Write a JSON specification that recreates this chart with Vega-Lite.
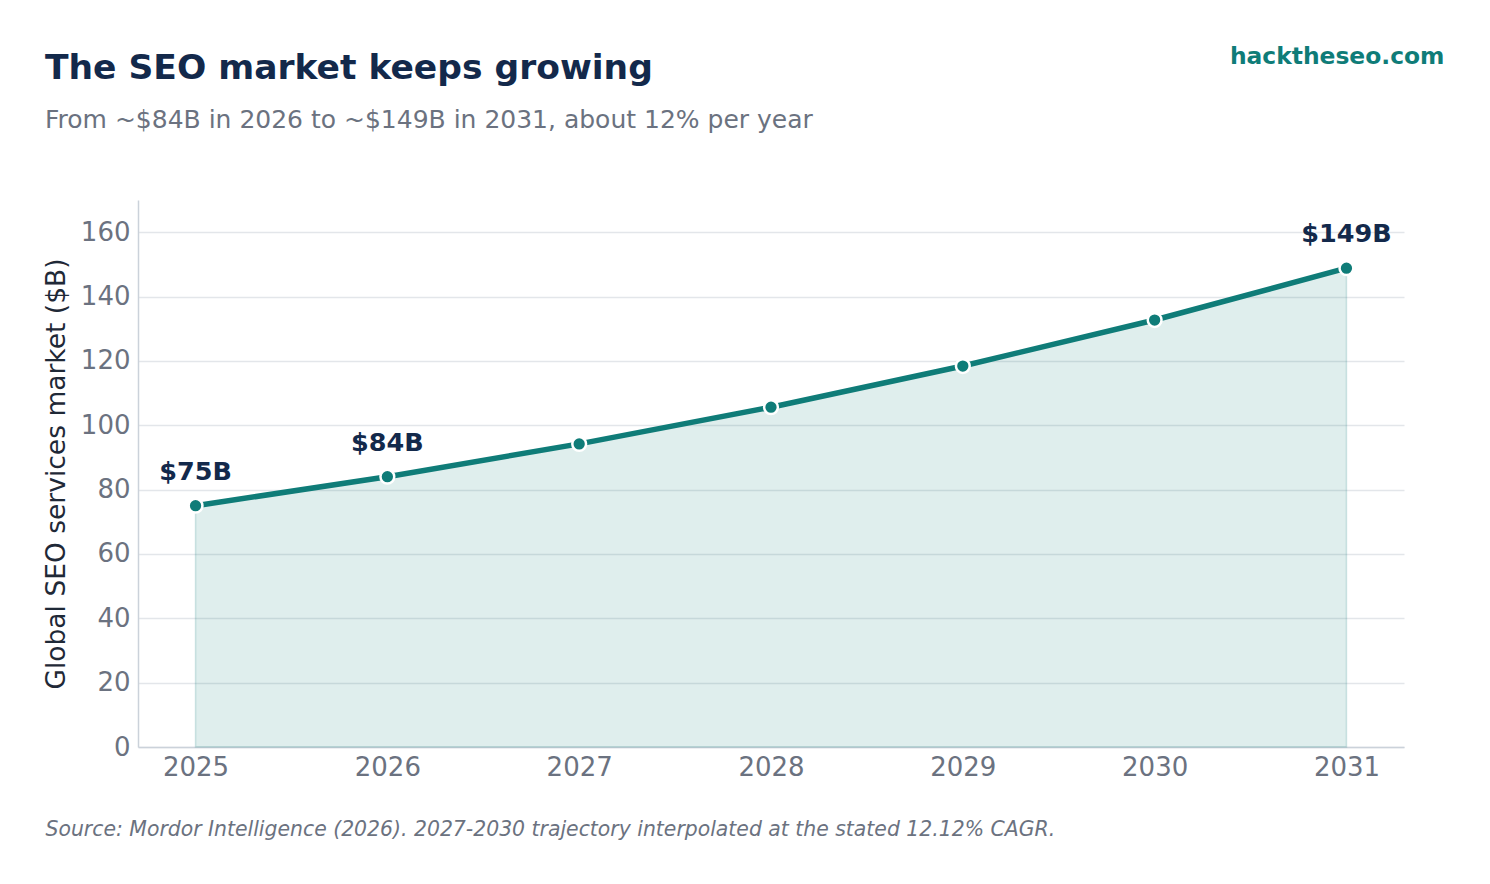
{
  "$schema": "https://vega.github.io/schema/vega-lite/v6.json",
  "autosize": {"type": "none"},
  "width": 1266,
  "height": 547,
  "padding": {"left": 138, "top": 200, "right": 86, "bottom": 137},
  "background": "white",
  "config": {
    "font": "DejaVu Sans",
    "view": {"stroke": null}
  },
  "title": {
    "text": "The SEO market keeps growing",
    "subtitle": "From ~$84B in 2026 to ~$149B in 2031, about 12% per year",
    "anchor": "start",
    "frame": "group",
    "dx": -93,
    "font": "DejaVu Sans",
    "fontSize": 34.5,
    "fontWeight": "bold",
    "color": "#13294b",
    "subtitleFont": "DejaVu Sans",
    "subtitleFontSize": 25,
    "subtitleColor": "#6b7280",
    "subtitlePadding": 22,
    "offset": -90
  },
  "data": {
    "values": [
      {"year": 2025, "market": 75.0, "label": "$75B"},
      {"year": 2026, "market": 84.0, "label": "$84B"},
      {"year": 2027, "market": 94.2, "label": ""},
      {"year": 2028, "market": 105.6, "label": ""},
      {"year": 2029, "market": 118.4, "label": ""},
      {"year": 2030, "market": 132.7, "label": ""},
      {"year": 2031, "market": 148.8, "label": "$149B"}
    ]
  },
  "encoding": {
    "x": {
      "field": "year",
      "type": "quantitative",
      "scale": {"domain": [2024.7, 2031.3], "nice": false, "zero": false},
      "axis": {
        "values": [2025, 2026, 2027, 2028, 2029, 2030, 2031],
        "format": "d",
        "grid": false,
        "ticks": false,
        "labelPadding": 7,
        "labelFontSize": 26,
        "labelColor": "#6b7280",
        "labelFont": "DejaVu Sans",
        "domainColor": "#cbd2da",
        "domainWidth": 1.5,
        "title": "Source: Mordor Intelligence (2026). 2027-2030 trajectory interpolated at the stated 12.12% CAGR.",
        "titleFont": "DejaVu Sans",
        "titleFontSize": 20.4,
        "titleFontStyle": "italic",
        "titleFontWeight": "normal",
        "titleColor": "#6b7280",
        "titleAnchor": "start",
        "titleAlign": "left",
        "titleBaseline": "alphabetic",
        "titleX": -93,
        "titleY": 88
      }
    }
  },
  "layer": [
    {
      "mark": {"type": "area", "color": "#0f7c78", "fillOpacity": 0.135, "stroke": "#0f7c78", "strokeOpacity": 0.18, "strokeWidth": 1.5},
      "encoding": {
        "y": {
          "field": "market",
          "type": "quantitative",
          "scale": {"domain": [0, 170], "nice": false},
          "axis": {
            "orient": "left",
            "values": [0, 20, 40, 60, 80, 100, 120, 140, 160],
            "ticks": false,
            "labelPadding": 8,
            "labelFontSize": 26,
            "labelColor": "#6b7280",
            "labelFont": "DejaVu Sans",
            "gridColor": "#e3e6ea",
            "gridWidth": 1.5,
            "domainColor": "#cbd2da",
            "domainWidth": 1.5,
            "title": "Global SEO services market ($B)",
            "titleFont": "DejaVu Sans",
            "titleFontSize": 26.5,
            "titleFontWeight": "normal",
            "titleColor": "#1f2937",
            "titlePadding": 10
          }
        }
      }
    },
    {
      "mark": {"type": "line", "color": "#0f7c78", "strokeWidth": 5.5},
      "encoding": {
        "y": {"field": "market", "type": "quantitative", "scale": {"domain": [0, 170], "nice": false}, "axis": null}
      }
    },
    {
      "mark": {"type": "point", "filled": true, "fill": "#0f7c78", "stroke": "white", "strokeWidth": 2.5, "size": 190, "opacity": 1},
      "encoding": {
        "y": {"field": "market", "type": "quantitative", "scale": {"domain": [0, 170], "nice": false}, "axis": null}
      }
    },
    {
      "transform": [{"filter": "datum.label != ''"}],
      "mark": {"type": "text", "font": "DejaVu Sans", "fontSize": 25.5, "fontWeight": "bold", "color": "#13294b", "baseline": "alphabetic", "align": "center", "dy": -26},
      "encoding": {
        "y": {"field": "market", "type": "quantitative", "scale": {"domain": [0, 170], "nice": false}, "axis": null},
        "text": {"field": "label"}
      }
    },
    {
      "mark": {"type": "point", "opacity": 0},
      "encoding": {
        "y": {
          "field": "market",
          "type": "quantitative",
          "scale": {"domain": [0, 170], "nice": false},
          "axis": {
            "orient": "right",
            "labels": false,
            "ticks": false,
            "domain": false,
            "grid": false,
            "title": "hacktheseo.com",
            "titleAngle": 0,
            "titleFont": "DejaVu Sans",
            "titleFontSize": 23.4,
            "titleFontWeight": "bold",
            "titleColor": "#0f7c78",
            "titleAlign": "right",
            "titleBaseline": "alphabetic",
            "titleX": 40,
            "titleY": -137
          }
        }
      }
    }
  ],
  "resolve": {"axis": {"y": "independent"}}
}
